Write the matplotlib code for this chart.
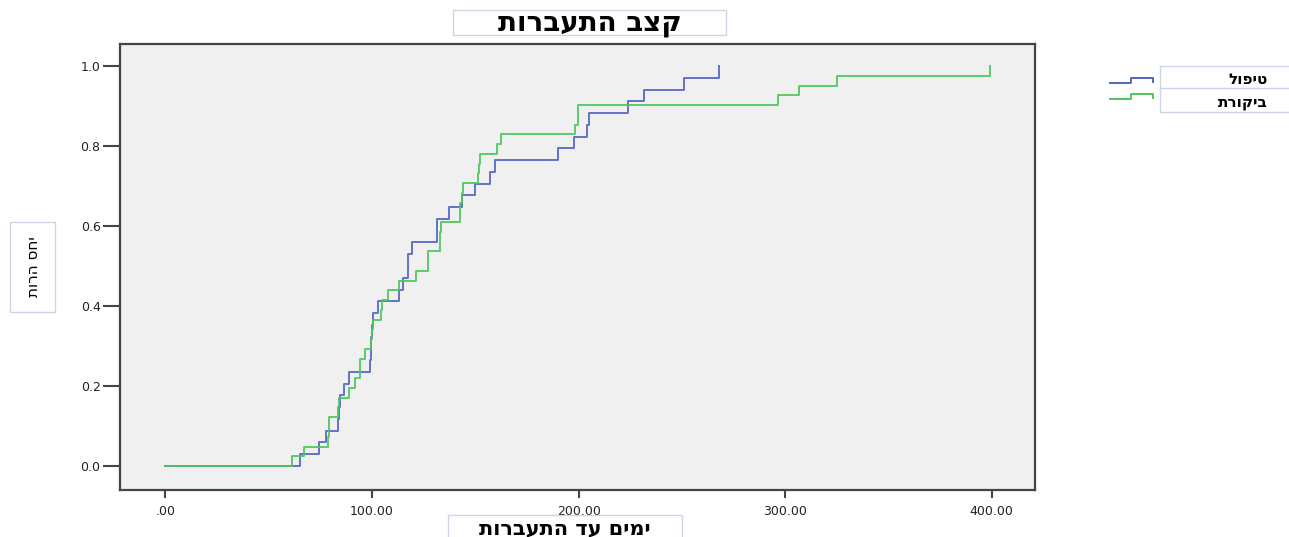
import numpy as np
import matplotlib.pyplot as plt
from matplotlib.lines import Line2D
from matplotlib.patches import Rectangle

plt.rcParams['font.family'] = ['DejaVu Sans']

# days until conception, one value per subject (no censoring)
treat_days = [64.9, 74.2, 77.5, 83.5, 84.0, 84.5, 86.4, 88.8,
              98.8, 99.3, 99.6, 100.0, 100.3, 102.8, 113.3, 114.8,
              117.3, 117.3, 119.5, 131.4, 131.4, 137.5, 143.7, 150.1,
              157.2, 159.7, 190.0, 197.7, 204.2, 205.0, 223.9, 231.5,
              251.0, 268.0]
control_days = [61.4, 67.3, 78.5, 79.0, 79.3, 83.5, 84.0, 89.1,
                91.9, 94.0, 94.0, 96.4, 99.3, 99.8, 100.5, 104.5,
                105.0, 107.7, 113.3, 121.4, 127.0, 127.0, 132.7, 133.0,
                133.3, 142.4, 142.8, 143.4, 144.0, 151.5, 151.7, 152.5,
                160.4, 162.6, 198.5, 199.7, 199.7, 296.5, 306.7, 325.1,
                399.0]

series_names = ['טיפול', 'ביקורת']
series_colors = ['#5266c4', '#4cc65c']
x_ticks = [0, 100, 200, 300, 400]
x_tick_labels = ['.00', '100.00', '200.00', '300.00', '400.00']
y_ticks = [0.0, 0.2, 0.4, 0.6, 0.8, 1.0]
y_tick_labels = ['0.0', '0.2', '0.4', '0.6', '0.8', '1.0']

title = 'קצב התעברות'
x_label = 'ימים עד התעברות'
y_label = 'יחס הרות'

W, H = 1289.0, 537.0


def rtl(s):
    # matplotlib has no bidi support, so flip the Hebrew text by hand
    return s[::-1]


def cumulative(days):
    d = np.sort(np.asarray(days, dtype=float))
    frac = np.arange(1, len(d) + 1) / len(d)
    return np.r_[0.0, d], np.r_[0.0, frac]


def fbox(x0, y0, x1, y1):
    # white label box, given in pixels from the top-left corner
    fig.add_artist(Rectangle((x0 / W, 1 - y1 / H), (x1 - x0) / W, (y1 - y0) / H,
                             transform=fig.transFigure, facecolor='white',
                             edgecolor='#cdd6e6', lw=1))


fig = plt.figure(figsize=(12.89, 5.37), dpi=100)
fig.patch.set_facecolor('white')
ax = fig.add_axes([0.0931, 0.0875, 0.7099, 0.8305])
ax.set_facecolor('#f0f0f0')

for days, color in zip([treat_days, control_days], series_colors):
    xs, ys = cumulative(days)
    ax.step(xs, ys, where='post', color=color, lw=1.4, alpha=0.9)

ax.set_xlim(-22, 421)
ax.set_ylim(-0.06, 1.055)
ax.set_xticks(x_ticks)
ax.set_xticklabels(x_tick_labels, fontsize=9, color='#222222')
ax.set_yticks(y_ticks)
ax.set_yticklabels(y_tick_labels, fontsize=9, color='#222222')
ax.tick_params(axis='y', length=12, width=1.5, color='#444444', pad=2)
ax.tick_params(axis='x', length=6, width=1.5, color='#444444', pad=5)
for sp in ax.spines.values():
    sp.set_color('#444444')
    sp.set_linewidth(1.6)

fbox(453, 10, 726, 35)
fig.text(589.5 / W, 1 - 23 / H, rtl(title), fontsize=20, fontweight='bold',
         ha='center', va='center')
fbox(448, 515, 682, 545)
fig.text(565 / W, 1 - 528 / H, rtl(x_label), fontsize=15, fontweight='bold',
         ha='center', va='center')
fbox(10, 222, 55, 312)
fig.text(33 / W, 1 - 267 / H, rtl(y_label), fontsize=11, rotation=90,
         ha='center', va='center')

# legend drawn by hand, SPSS style
fig.add_artist(Line2D([1160 / W, 1160 / W], [1 - 66 / H, 1 - 112 / H],
                      transform=fig.transFigure, color='#cdd6e6', lw=1))
for ypx in [66, 88, 112]:
    fig.add_artist(Line2D([1160 / W, 1289 / W], [1 - ypx / H, 1 - ypx / H],
                          transform=fig.transFigure, color='#cdd6e6', lw=1))
for i, (name, color) in enumerate(zip(series_names, series_colors)):
    base = 83 + 16 * i
    gx = np.array([1110, 1131, 1131, 1153, 1153]) / W
    gy = 1 - np.array([base, base, base - 5, base - 5, base - 1]) / H
    fig.add_artist(Line2D(gx, gy, transform=fig.transFigure, color=color, lw=1.4))
    fig.text(1268 / W, 1 - (79 + 23 * i) / H, rtl(name), fontsize=11, fontweight='bold',
             ha='right', va='center')

fig.savefig('out.png', dpi=100)
